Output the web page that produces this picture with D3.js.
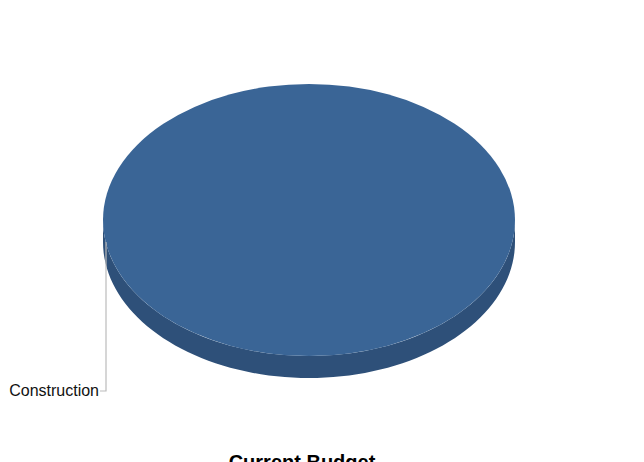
<!DOCTYPE html>
<html><head><meta charset="utf-8">
<script src="https://cdn.jsdelivr.net/npm/d3@7"></script>
<style>body{margin:0;background:#fff;}svg{display:block;}</style>
</head><body>
<script>
const categories = ["Construction"];
const values = [100];
const title = "Current Budget";
const colors = ["#3a6596"];
const sideColors = ["#2e5079"];

const W = 644, H = 462;
const cx = 309, cy = 220, rx = 206, ry = 136, depth = 22;

const svg = d3.select("body").append("svg").attr("width", W).attr("height", H);
const pieGen = d3.pie().value(d=>d).sort(null);
const arcs = pieGen(values);

// side (front-facing part of the cylinder wall)
function sidePath(a0, a1) {
  const start = Math.max(a0, Math.PI/2), end = Math.min(a1, 3*Math.PI/2);
  if (end <= start) return null;
  const pts = [];
  const n = 80;
  for (let k=0;k<=n;k++){ const a = start+(end-start)*k/n; pts.push([cx+rx*Math.sin(a), cy-ry*Math.cos(a)]); }
  for (let k=n;k>=0;k--){ const a = start+(end-start)*k/n; pts.push([cx+rx*Math.sin(a), cy-ry*Math.cos(a)+depth]); }
  return d3.line()(pts) + "Z";
}
arcs.forEach((d,i)=>{
  const p = sidePath(d.startAngle, d.endAngle);
  if (p) svg.append("path").attr("d", p).attr("fill", sideColors[i]);
});
const arcGen = d3.arc().innerRadius(0).outerRadius(rx);
const topG = svg.append("g").attr("transform", `translate(${cx},${cy}) scale(1,${ry/rx})`);
topG.selectAll("path").data(arcs).join("path").attr("d", arcGen).attr("fill", (d,i)=>colors[i]);

// label with leader line
const lx = 106, lyTop = 242, lyBot = 391;
svg.append("path").attr("d", `M${lx},${lyTop}V${lyBot}H${lx-6}`).attr("fill","none").attr("stroke","#bbbbbb").attr("stroke-width",1.2);
svg.append("text").attr("x", lx-7).attr("y", lyBot+5).attr("text-anchor","end")
  .attr("font-family","Liberation Sans, Arial, sans-serif").attr("font-size",16).attr("fill","#111")
  .text(categories[0]);

svg.append("text").attr("x", 302).attr("y", 469).attr("text-anchor","middle")
  .attr("font-family","Liberation Sans, Arial, sans-serif").attr("font-size",20).attr("font-weight","bold").attr("fill","#000")
  .text(title);
</script>
</body></html>
